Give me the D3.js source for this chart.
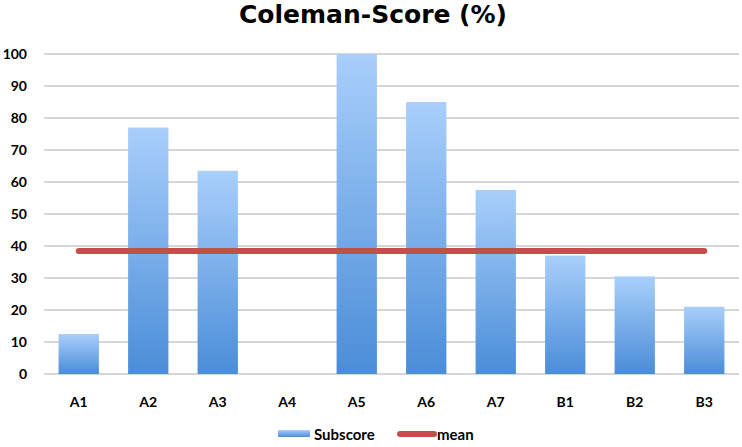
<!DOCTYPE html>
<html>
<head>
<meta charset="utf-8">
<script src="https://cdn.jsdelivr.net/npm/d3@7"></script>
<style>
  body { margin: 0; background: #fff; }
  text { font-family: Lato, "DejaVu Sans", sans-serif; font-weight: bold; fill: #000; }
  text.title { font-family: "DejaVu Sans", sans-serif; }
</style>
</head>
<body>
<div id="chart"></div>
<script>
const width = 742
const height = 447

const categories = ["A1", "A2", "A3", "A4", "A5", "A6", "A7", "B1", "B2", "B3"]
const subscore = [12.5, 77, 63.5, 0, 100, 85, 57.5, 37, 30.5, 21]
const meanValue = 38.4
const yTicks = [0, 10, 20, 30, 40, 50, 60, 70, 80, 90, 100]

const svg = d3.select("#chart")
  .append("svg")
  .attr("width", width)
  .attr("height", height)

const x = d3.scaleBand()
  .domain(categories)
  .range([44, 739])
  .paddingInner(0.42)
  .paddingOuter(0.21)

const y = d3.scaleLinear()
  .domain([0, 100])
  .range([374, 54])

const defs = svg.append("defs")
const grad = defs.append("linearGradient")
  .attr("id", "barGrad")
  .attr("x1", 0).attr("y1", 0)
  .attr("x2", 0).attr("y2", 1)
grad.append("stop").attr("offset", "0%").attr("stop-color", "#a9cffb")
grad.append("stop").attr("offset", "100%").attr("stop-color", "#4a8dd8")

// gridlines
svg.append("g")
  .selectAll("line")
  .data(yTicks)
  .join("line")
    .attr("x1", 44)
    .attr("x2", 739)
    .attr("y1", d => y(d))
    .attr("y2", d => y(d))
    .attr("stroke", "#c9c9c9")
    .attr("stroke-width", 1.5)

// y tick labels
svg.append("g")
  .selectAll("text")
  .data(yTicks)
  .join("text")
    .attr("x", 27)
    .attr("y", d => y(d))
    .attr("dy", "0.35em")
    .attr("text-anchor", "end")
    .attr("font-size", "14px")
    .text(d => d)

// bars
svg.append("g")
  .selectAll("rect")
  .data(categories)
  .join("rect")
    .attr("x", d => x(d))
    .attr("width", x.bandwidth())
    .attr("y", (d, i) => y(subscore[i]))
    .attr("height", (d, i) => y(0) - y(subscore[i]))
    .attr("fill", "url(#barGrad)")

// x labels
svg.append("g")
  .selectAll("text")
  .data(categories)
  .join("text")
    .attr("x", d => x(d) + x.bandwidth() / 2)
    .attr("y", 407)
    .attr("text-anchor", "middle")
    .attr("font-size", "14px")
    .text(d => d)

// mean line
const meanLine = d3.line()
  .x(d => x(d) + x.bandwidth() / 2)
  .y(() => y(meanValue))

svg.append("path")
  .datum([categories[0], categories[categories.length - 1]])
  .attr("d", meanLine)
  .attr("fill", "none")
  .attr("stroke", "#c0504d")
  .attr("stroke-width", 6)
  .attr("stroke-linecap", "round")

// title
svg.append("text")
  .attr("class", "title")
  .attr("x", 373)
  .attr("y", 23)
  .attr("text-anchor", "middle")
  .attr("font-size", "25px")
  .text("Coleman-Score (%)")

// legend
const legend = svg.append("g")
legend.append("rect")
  .attr("x", 278).attr("y", 430)
  .attr("width", 32).attr("height", 7)
  .attr("fill", "url(#barGrad)")
legend.append("text")
  .attr("x", 314).attr("y", 440)
  .attr("font-size", "15px")
  .text("Subscore")
legend.append("line")
  .attr("x1", 400).attr("x2", 434)
  .attr("y1", 434).attr("y2", 434)
  .attr("stroke", "#c0504d")
  .attr("stroke-width", 6)
  .attr("stroke-linecap", "round")
legend.append("text")
  .attr("x", 437).attr("y", 440)
  .attr("font-size", "15px")
  .text("mean")
</script>
</body>
</html>
